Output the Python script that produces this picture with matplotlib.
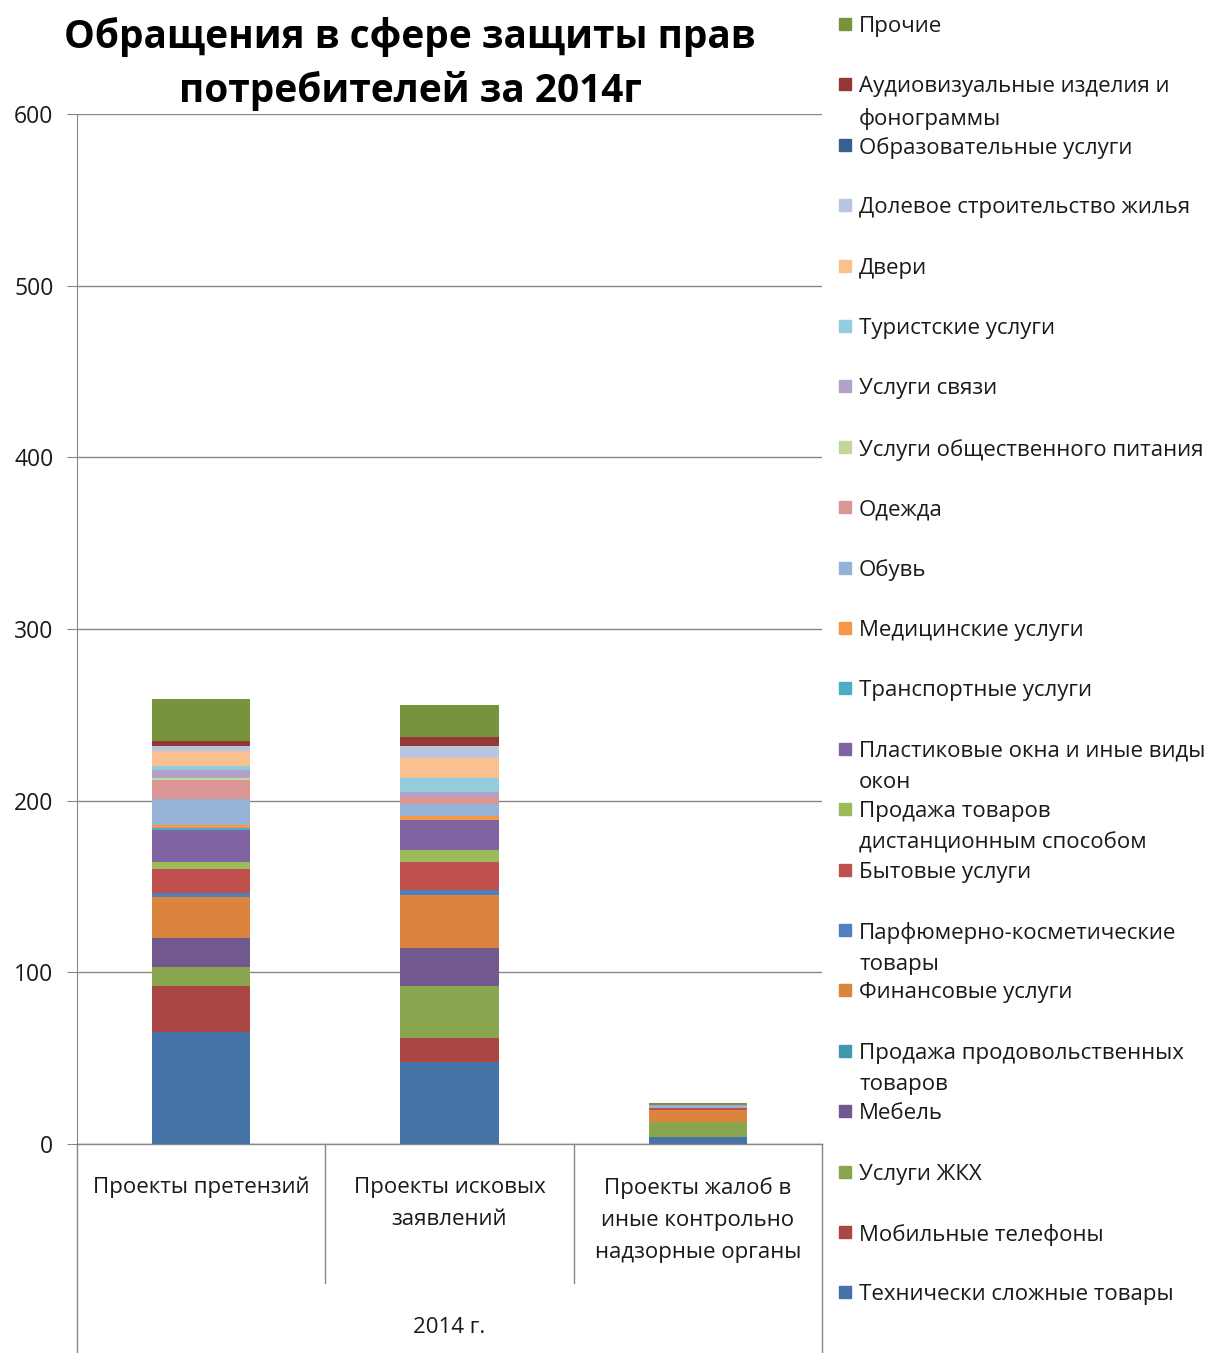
import matplotlib
matplotlib.use("Agg")
import matplotlib.pyplot as plt
from matplotlib.patches import Rectangle
import numpy as np

plt.rcParams['font.family'] = ['Open Sans', 'DejaVu Sans']

categories = ["Проекты претензий", "Проекты исковых\nзаявлений",
              "Проекты жалоб в\nиные контрольно\nнадзорные органы"]
group_label = "2014 г."

# stack order: bottom -> top
series_names = [
    "Технически сложные товары",
    "Мобильные телефоны",
    "Услуги ЖКХ",
    "Мебель",
    "Продажа продовольственных\nтоваров",
    "Финансовые услуги",
    "Парфюмерно-косметические\nтовары",
    "Бытовые услуги",
    "Продажа товаров\nдистанционным способом",
    "Пластиковые окна и иные виды\nокон",
    "Транспортные услуги",
    "Медицинские услуги",
    "Обувь",
    "Одежда",
    "Услуги общественного питания",
    "Услуги связи",
    "Туристские услуги",
    "Двери",
    "Долевое строительство жилья",
    "Образовательные услуги",
    "Аудиовизуальные изделия и\nфонограммы",
    "Прочие",
]

claims = [65, 27, 11, 17, 0, 24, 2, 14, 4, 19, 1, 2, 15, 11, 1, 5, 2, 9, 3, 0, 3, 24]
lawsuits = [48, 14, 30, 22, 0, 31, 3, 16, 7, 18, 0, 2, 7, 4, 0, 3, 8, 12, 7, 0, 5, 19]
complaints = [4, 0, 9, 0, 0, 7, 0, 1, 0, 0, 0, 0, 1, 0, 0, 1, 0, 0, 0, 0, 0, 1]

colors = ["#4572A7", "#AA4643", "#89A54E", "#71588F", "#4198AF", "#DB843D",
          "#4F81BD", "#C0504D", "#9BBB59", "#8064A2", "#4BACC6", "#F79646",
          "#95B3D7", "#D99694", "#C3D69B", "#B3A2C7", "#93CDDD", "#FAC090",
          "#B9C6E0", "#376092", "#953735", "#77933C"]

W, H = 1220, 1353
fig = plt.figure(figsize=(W / 100, H / 100), dpi=100)
ax = fig.add_axes([77 / W, (H - 1144) / H, 745 / W, 1030 / H])

data = np.array([claims, lawsuits, complaints])
x = np.arange(len(categories))
bottom = np.zeros(len(categories))
for i, name in enumerate(series_names):
    ax.bar(x, data[:, i], 0.395, bottom=bottom, color=colors[i], edgecolor="none", zorder=3)
    bottom += data[:, i]

ax.set_xlim(-0.5, 2.5)
ax.set_ylim(0, 600)
ax.set_yticks(range(0, 601, 100))
ax.yaxis.grid(True, color="#868686", lw=1)
ax.set_axisbelow(True)
for s in ["top", "right", "bottom"]:
    ax.spines[s].set_visible(False)
ax.spines["left"].set_color("#868686")
ax.tick_params(axis="y", length=7, color="#868686", labelsize=16.5, pad=10, labelcolor="#1a1a1a")
ax.set_xticks([])

# category axis box
tr = ax.get_xaxis_transform()
grey = "#868686"
ax.plot([-0.5, 2.5], [0, 0], transform=tr, color=grey, lw=1, clip_on=False, zorder=4)
ax.plot([-0.5, -0.5], [0, -0.21], transform=tr, color=grey, lw=1, clip_on=False)
ax.plot([2.5, 2.5], [0, -0.21], transform=tr, color=grey, lw=1, clip_on=False)
for xs in [0.5, 1.5]:
    ax.plot([xs, xs], [0, -0.135], transform=tr, color=grey, lw=1, clip_on=False)
for xi, lab in zip(x, categories):
    ax.text(xi, -0.032, lab, transform=tr, ha="center", va="top", fontsize=16,
            linespacing=1.7, color="#1a1a1a")
ax.text(1, -0.178, group_label, transform=tr, ha="center", va="center", fontsize=16,
        color="#1a1a1a")

fig.text(410 / W, 1 - 64 / H, "Обращения в сфере защиты прав\nпотребителей за 2014г",
         ha="center", va="center", fontsize=28, fontweight="bold", linespacing=1.42)

# legend, top entry first
for k, i in enumerate(reversed(range(len(series_names)))):
    yc = 24 + 60.4 * k
    fig.patches.append(Rectangle((839 / W, 1 - (yc + 6) / H), 12 / W, 12 / H,
                                 transform=fig.transFigure, color=colors[i]))
    fig.text(859 / W, 1 - (yc - 8) / H, series_names[i], ha="left", va="top",
             fontsize=16, linespacing=1.62, color="#1a1a1a")

fig.savefig("out.png", dpi=100)
